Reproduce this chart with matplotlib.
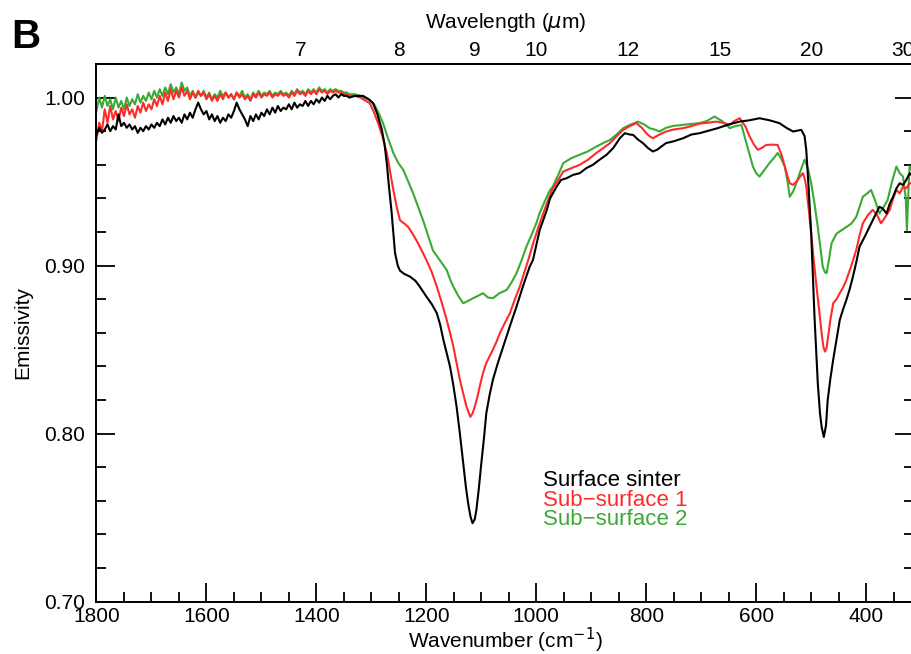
import matplotlib.pyplot as plt
from matplotlib.ticker import MultipleLocator, FormatStrFormatter

plt.rcParams['font.family'] = ['Liberation Sans', 'DejaVu Sans']

# noisy high-wavenumber part, shared grid 1800 -> 1340 step 5
wn_flat = list(range(1800, 1335, -5))

black_flat = [0.978, 0.982, 0.979, 0.981, 0.984, 0.980, 0.983, 0.981, 0.990, 0.983,
              0.985, 0.982, 0.984, 0.981, 0.983, 0.979, 0.982, 0.980, 0.983, 0.981,
              0.984, 0.982, 0.985, 0.983, 0.987, 0.984, 0.988, 0.985, 0.989, 0.986,
              0.988, 0.985, 0.990, 0.987, 0.991, 0.988, 0.993, 0.997, 0.993, 0.990,
              0.992, 0.987, 0.990, 0.986, 0.989, 0.985, 0.988, 0.986, 0.990, 0.988,
              0.992, 0.997, 0.993, 0.990, 0.987, 0.983, 0.989, 0.986, 0.990, 0.987,
              0.991, 0.989, 0.993, 0.990, 0.994, 0.991, 0.995, 0.992, 0.994, 0.993,
              0.996, 0.993, 0.997, 0.994, 0.996, 0.995, 0.998, 0.995, 0.998, 0.996,
              0.999, 0.997, 1.000, 0.998, 1.001, 0.999, 1.001, 1.002, 1.000, 1.002,
              1.001, 1.001, 1.000]
red_flat = [0.975, 0.985, 0.980, 0.993, 0.985, 0.995, 0.987, 0.992, 0.986, 0.994,
            0.989, 0.996, 0.990, 0.993, 0.988, 0.995, 0.991, 0.997, 0.992, 0.996,
            0.993, 0.999, 0.995, 1.001, 0.996, 1.003, 0.998, 1.005, 0.999, 1.004,
            1.000, 1.006, 1.001, 1.004, 0.999, 1.003, 1.000, 1.004, 1.001, 1.003,
            0.999, 1.002, 0.998, 1.001, 0.998, 1.002, 0.999, 1.003, 1.000, 1.002,
            0.999, 1.003, 1.000, 1.002, 0.999, 1.001, 0.998, 1.002, 1.000, 1.003,
            1.000, 1.002, 1.001, 1.003, 1.000, 1.002, 1.001, 1.003, 1.001, 1.002,
            1.000, 1.003, 1.001, 1.004, 1.002, 1.003, 1.001, 1.004, 1.002, 1.004,
            1.002, 1.005, 1.003, 1.004, 1.002, 1.004, 1.003, 1.004, 1.003, 1.003,
            1.002, 1.002, 1.001]
green_flat = [0.992, 1.000, 0.994, 1.001, 0.995, 0.999, 0.993, 1.000, 0.994, 0.998,
              0.993, 1.000, 0.995, 0.999, 0.996, 1.002, 0.997, 1.001, 0.998, 1.003,
              0.999, 1.004, 1.000, 1.005, 1.001, 1.006, 1.002, 1.008, 1.003, 1.006,
              1.002, 1.009, 1.004, 1.006, 1.001, 1.004, 1.000, 1.003, 1.001, 1.004,
              1.000, 1.003, 0.999, 1.002, 1.000, 1.004, 1.001, 1.003, 1.000, 1.002,
              0.999, 1.003, 1.001, 1.004, 1.000, 1.002, 0.999, 1.003, 1.001, 1.004,
              1.001, 1.003, 1.002, 1.004, 1.001, 1.003, 1.002, 1.004, 1.002, 1.003,
              1.001, 1.004, 1.002, 1.005, 1.003, 1.004, 1.002, 1.005, 1.003, 1.005,
              1.003, 1.006, 1.004, 1.005, 1.003, 1.005, 1.004, 1.005, 1.004, 1.004,
              1.003, 1.003, 1.002]

black_wn = [1330, 1315, 1305, 1297, 1289, 1281, 1276, 1272, 1268, 1263, 1257, 1252, 1248,
            1240, 1230, 1220, 1212, 1200, 1190, 1181, 1175, 1169, 1163, 1157, 1151, 1145,
            1139, 1133, 1128, 1124, 1120, 1116, 1112, 1109, 1105, 1100, 1095, 1091, 1085,
            1079, 1070, 1060, 1048, 1036, 1024, 1012, 1006, 994, 981, 975, 963, 955, 945,
            933, 921, 909, 897, 885, 872, 860, 848, 839, 830, 824, 815, 806, 797, 788, 780,
            772, 764, 750, 733, 718, 703, 690, 670, 650, 630, 612, 594, 576, 558, 545, 533,
            518, 512, 509, 505, 500, 494, 488, 484, 481, 477, 473, 470, 465, 460, 454, 448,
            442, 436, 430, 424, 418, 412, 403, 394, 385, 376, 370, 363, 357, 351, 345, 339,
            333, 327, 321, 315]
black_e = [1.001, 1.001, 0.999, 0.9967, 0.990, 0.981, 0.972, 0.961, 0.947, 0.931, 0.9075,
           0.900, 0.897, 0.895, 0.8935, 0.891, 0.8875, 0.8816, 0.877, 0.8717, 0.865, 0.8558,
           0.848, 0.840, 0.829, 0.816, 0.800, 0.7824, 0.768, 0.7586, 0.751, 0.7467, 0.749,
           0.7546, 0.766, 0.7824, 0.798, 0.812, 0.823, 0.832, 0.842, 0.852, 0.864, 0.8756,
           0.888, 0.8994, 0.9034, 0.921, 0.933, 0.940, 0.947, 0.951, 0.952, 0.954, 0.955,
           0.958, 0.960, 0.963, 0.966, 0.970, 0.9758, 0.9788, 0.978, 0.9778, 0.975, 0.9729,
           0.970, 0.9679, 0.969, 0.971, 0.9729, 0.974, 0.9758, 0.978, 0.9788, 0.980, 0.9818,
           0.984, 0.9857, 0.9865, 0.9877, 0.9865, 0.9848, 0.982, 0.9798, 0.9808, 0.977,
           0.9689, 0.948, 0.919, 0.8696, 0.830, 0.812, 0.804, 0.798, 0.805, 0.820, 0.833,
           0.844, 0.856, 0.8677, 0.874, 0.8796, 0.886, 0.8935, 0.902, 0.9113, 0.917, 0.923,
           0.929, 0.935, 0.934, 0.931, 0.937, 0.941, 0.946, 0.949, 0.948, 0.951, 0.955, 0.953]

red_wn = [1330, 1320, 1310, 1303, 1295, 1288, 1280, 1272, 1266, 1260, 1254, 1248, 1240,
          1233, 1225, 1218, 1210, 1200, 1190, 1181, 1172, 1163, 1157, 1151, 1145, 1139,
          1133, 1127, 1120, 1116, 1112, 1107, 1103, 1097, 1091, 1085, 1079, 1072, 1066,
          1057, 1048, 1039, 1030, 1015, 1005, 994, 982, 970, 960, 951, 936, 921, 906, 891,
          878, 866, 854, 842, 830, 818, 808, 800, 794, 788, 776, 764, 750, 733, 718, 703,
          688, 673, 660, 648, 640, 630, 620, 612, 604, 597, 590, 582, 571, 561, 554, 548,
          543, 539, 533, 527, 520, 515, 512, 509, 505, 500, 495, 491, 486, 481, 478, 475,
          472, 470, 465, 460, 454, 448, 442, 436, 427, 418, 412, 406, 397, 388, 380, 373,
          365, 357, 351, 345, 339, 333, 327, 321, 315]
red_e = [1.001, 1.000, 0.998, 0.9967, 0.991, 0.985, 0.977, 0.967, 0.956, 0.945, 0.935,
         0.927, 0.925, 0.923, 0.919, 0.915, 0.910, 0.9034, 0.896, 0.8875, 0.878, 0.8677,
         0.860, 0.852, 0.842, 0.832, 0.824, 0.816, 0.810, 0.812, 0.816, 0.822, 0.828, 0.836,
         0.842, 0.846, 0.850, 0.855, 0.860, 0.866, 0.8717, 0.880, 0.8875, 0.903, 0.914,
         0.925, 0.936, 0.946, 0.951, 0.956, 0.958, 0.960, 0.963, 0.967, 0.970, 0.9729,
         0.977, 0.9808, 0.983, 0.9848, 0.982, 0.9788, 0.977, 0.9758, 0.978, 0.9798, 0.981,
         0.9818, 0.983, 0.9845, 0.985, 0.9857, 0.985, 0.9837, 0.986, 0.9877, 0.983, 0.9768,
         0.972, 0.9689, 0.970, 0.9718, 0.972, 0.9718, 0.966, 0.9589, 0.953, 0.949, 0.948,
         0.950, 0.953, 0.955, 0.952, 0.947, 0.935, 0.919, 0.902, 0.8895, 0.875, 0.8597,
         0.852, 0.8488, 0.851, 0.8558, 0.868, 0.8776, 0.880, 0.8836, 0.887, 0.8915, 0.900,
         0.9093, 0.918, 0.9252, 0.930, 0.9332, 0.930, 0.9252, 0.929, 0.9332, 0.940, 0.945,
         0.943, 0.947, 0.946, 0.949, 0.949]

green_wn = [1330, 1320, 1310, 1303, 1295, 1287, 1279, 1270, 1260, 1251, 1242, 1233, 1224,
            1215, 1206, 1197, 1188, 1175, 1163, 1157, 1151, 1142, 1133, 1124, 1115, 1106,
            1097, 1088, 1079, 1067, 1054, 1045, 1036, 1027, 1018, 1009, 1000, 994, 985, 975,
            970, 960, 951, 936, 921, 906, 891, 878, 866, 854, 842, 828, 815, 804, 794, 785,
            776, 764, 751, 727, 703, 690, 676, 662, 648, 638, 627, 617, 606, 600, 594, 585,
            576, 568, 561, 555, 548, 543, 539, 533, 527, 520, 512, 506, 500, 494, 488, 483,
            479, 475, 472, 468, 463, 454, 445, 436, 427, 418, 412, 406, 398, 391, 383, 376,
            368, 361, 353, 345, 339, 333, 328, 326, 323, 321, 316]
green_e = [1.002, 1.001, 0.9995, 0.9986, 0.996, 0.991, 0.985, 0.976, 0.967, 0.961, 0.957,
           0.950, 0.943, 0.935, 0.927, 0.918, 0.909, 0.903, 0.8974, 0.892, 0.8875, 0.882,
           0.8776, 0.879, 0.8806, 0.882, 0.8836, 0.881, 0.8806, 0.8836, 0.8855, 0.890,
           0.8955, 0.903, 0.9113, 0.918, 0.9252, 0.9312, 0.938, 0.945, 0.947, 0.954, 0.961,
           0.964, 0.966, 0.968, 0.9708, 0.973, 0.9748, 0.978, 0.9818, 0.984, 0.9857, 0.984,
           0.9818, 0.981, 0.9798, 0.982, 0.9831, 0.984, 0.9848, 0.986, 0.9887, 0.986, 0.9818,
           0.983, 0.9837, 0.972, 0.9589, 0.955, 0.953, 0.957, 0.961, 0.964, 0.967, 0.964,
           0.9589, 0.950, 0.941, 0.944, 0.949, 0.956, 0.963, 0.958, 0.949, 0.937, 0.923,
           0.910, 0.8994, 0.896, 0.8955, 0.903, 0.9133, 0.919, 0.921, 0.923, 0.925, 0.929,
           0.935, 0.941, 0.943, 0.945, 0.938, 0.931, 0.935, 0.939, 0.950, 0.959, 0.955,
           0.953, 0.940, 0.921, 0.945, 0.959, 0.956]

series_names = ['Surface sinter', 'Sub\u2212surface 1', 'Sub\u2212surface 2']
series_colors = ['black', '#ff2a2a', '#3aaa35']

top_um = [6, 7, 8, 9, 10, 12, 15, 20, 30]

fig = plt.figure(figsize=(9.12, 6.54), dpi=100)
ax = fig.add_axes([0.1058, 0.080, 0.8964, 0.8222])

curves = [(wn_flat + black_wn, black_flat + black_e),
          (wn_flat + red_wn, red_flat + red_e),
          (wn_flat + green_wn, green_flat + green_e)]
# draw green first so black ends up on top, like the original
for (x, y), c in list(zip(curves, series_colors))[::-1]:
    ax.plot(x, y, color=c, lw=1.5)

ax.set_xlim(1800, 313)
ax.set_ylim(0.70, 1.02)
ax.xaxis.set_major_locator(MultipleLocator(200))
ax.xaxis.set_minor_locator(MultipleLocator(50))
ax.yaxis.set_major_locator(MultipleLocator(0.1))
ax.yaxis.set_minor_locator(MultipleLocator(0.02))
ax.yaxis.set_major_formatter(FormatStrFormatter('%.2f'))
ax.tick_params(which='both', direction='in', top=True, right=True, width=1.3,
               labelsize=15, labeltop=False, labelright=False)
ax.tick_params(which='major', length=14)
ax.tick_params(which='minor', length=7.5)
ax.tick_params(axis='x', pad=4)
ax.tick_params(axis='y', pad=8)
for s in ax.spines.values():
    s.set_linewidth(1.4)

ax.set_xlabel('Wavenumber (cm$^{-1}$)', fontsize=15, labelpad=0)
ax.set_ylabel('Emissivity', fontsize=15, labelpad=9)

ax2 = ax.twiny()
ax2.set_xlim(ax.get_xlim())
ax2.set_xticks([10000 / u for u in top_um])
ax2.set_xticklabels([str(u) for u in top_um])
ax2.tick_params(length=0, labelsize=15, pad=3)
for s in ax2.spines.values():
    s.set_visible(False)
ax2.set_xlabel('Wavelength ($\\mu$m)', fontsize=15, labelpad=9)

for i, (name, c) in enumerate(zip(series_names, series_colors)):
    ax.text(0.546, 0.226 - i * 0.037, name, color=c, fontsize=16,
            transform=ax.transAxes, va='center', ha='left')

fig.text(0.012, 0.944, 'B', fontsize=29, fontweight='bold', va='center')

fig.savefig('out.png', dpi=100)
